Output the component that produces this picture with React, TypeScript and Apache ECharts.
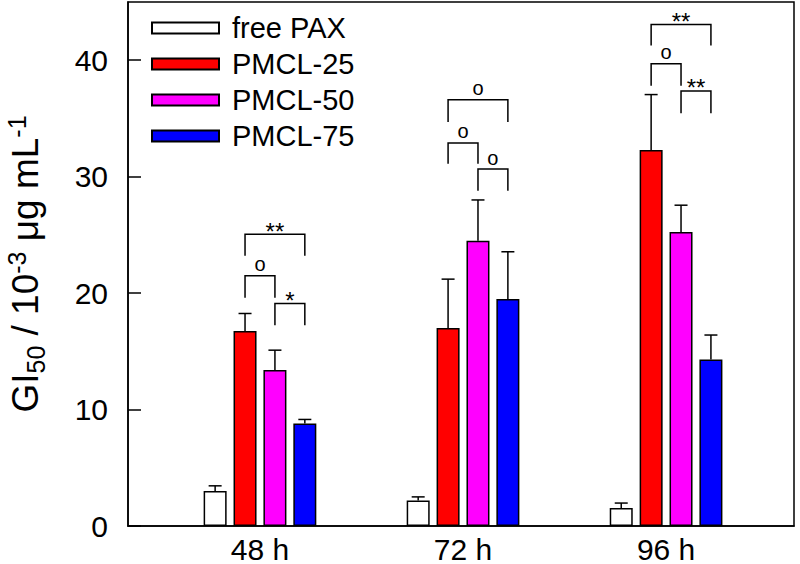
import React, { useEffect, useRef } from "react";
import * as echarts from "echarts";

const categories = ["48 h", "72 h", "96 h"];
const seriesNames = ["free PAX", "PMCL-25", "PMCL-50", "PMCL-75"];
const seriesColors = ["#ffffff", "#ff0000", "#ff00ff", "#0000ff"];
const freePax = [3.0, 2.2, 1.55];
const freePaxErr = [0.45, 0.3, 0.42];
const pmcl25 = [16.75, 17.0, 32.3];
const pmcl25Err = [1.5, 4.2, 4.75];
const pmcl50 = [13.4, 24.5, 25.25];
const pmcl50Err = [1.7, 3.5, 2.3];
const pmcl75 = [8.8, 19.5, 14.3];
const pmcl75Err = [0.35, 4.05, 2.1];

const yTicks = [0, 10, 20, 30, 40];

// significance brackets
const bracketCat = [0, 0, 0, 1, 1, 1, 2, 2, 2];
const bracketFrom = [1, 1, 2, 1, 1, 2, 1, 1, 2];
const bracketTo = [3, 2, 3, 3, 2, 3, 3, 2, 3];
const bracketTop = [25.05, 21.5, 19.1, 36.6, 32.9, 30.65, 43.07, 39.7, 37.36];
const bracketLeg = [23.2, 19.6, 17.25, 34.7, 31.1, 28.8, 41.27, 37.8, 35.45];
const bracketLabel = ["**", "o", "*", "o", "o", "o", "**", "o", "**"];

const BAR_W = 23;
const BAR_STEP = BAR_W * 1.3;
const FONT = "'Liberation Sans', Arial, sans-serif";

export default function App() {
  const ref = useRef<HTMLDivElement>(null);
  useEffect(() => {
    if (!ref.current) return;
    const chart = echarts.init(ref.current, null, { renderer: "svg" });
    const values = [freePax, pmcl25, pmcl50, pmcl75];
    const errs = [freePaxErr, pmcl25Err, pmcl50Err, pmcl75Err];

    const barSeries = seriesNames.map((name, i) => ({
      name,
      type: "bar",
      barWidth: BAR_W,
      barGap: "30%",
      itemStyle: { color: seriesColors[i], borderColor: "#000", borderWidth: 1.5 },
      data: values[i].map((v, c) => [c, v]),
      z: 2,
    }));

    const errData: number[][] = [];
    values.forEach((arr, s) => arr.forEach((v, c) => errData.push([c, v, v + errs[s][c], s])));

    const bracketData = bracketCat.map((c, i) => [c, bracketTop[i], bracketLeg[i], bracketFrom[i], bracketTo[i], i]);

    const option: any = {
      animation: false,
      textStyle: { fontFamily: FONT },
      grid: {
        left: 128,
        right: 6,
        top: 2,
        bottom: 38,
        show: true,
        borderColor: "#000",
        borderWidth: 1.5,
        backgroundColor: "#fff",
        containLabel: false,
        outerBoundsMode: "none",
      },
      legend: {
        orient: "vertical",
        left: 146,
        top: 8,
        itemWidth: 67,
        itemHeight: 11,
        itemGap: 6,
        icon: "rect",
        textStyle: { fontSize: 29, color: "#000", fontFamily: FONT, lineHeight: 30, padding: [0, 0, 0, 8] },
        data: seriesNames,
      },
      xAxis: {
        type: "value",
        min: -0.65,
        max: 2.63,
        axisLine: { show: true, onZero: false, lineStyle: { color: "#000", width: 1.5 } },
        axisTick: { show: false },
        splitLine: { show: false },
        axisLabel: {
          customValues: [0, 1, 2],
          formatter: (v: number) => categories[Math.round(v)] ?? "",
          fontSize: 30,
          color: "#000",
          margin: 8,
          fontFamily: FONT,
        },
      },
      yAxis: {
        type: "value",
        min: 0,
        max: 45,
        interval: 10,
        axisLine: { show: true, onZero: false, lineStyle: { color: "#000", width: 1.5 } },
        axisTick: { show: true, inside: true, length: 13, lineStyle: { color: "#000", width: 1.5 }, customValues: yTicks },
        splitLine: { show: false },
        axisLabel: { customValues: yTicks, fontSize: 30, color: "#000", margin: 20, fontFamily: FONT },
        name: "{m|GI}{sub|50}{m| / 10}{sup|-3}{m| μg mL}{sup|-1}",
        nameLocation: "middle",
        nameGap: 84,
        nameRotate: 90,
        nameTextStyle: {
          color: "#000",
          fontFamily: FONT,
          rich: {
            m: { fontSize: 37, color: "#000", fontFamily: FONT, lineHeight: 38, verticalAlign: "middle" },
            sub: { fontSize: 25, color: "#000", fontFamily: FONT, lineHeight: 38, verticalAlign: "bottom", padding: [0, 0, -4, 0] },
            sup: { fontSize: 25, color: "#000", fontFamily: FONT, lineHeight: 38, verticalAlign: "top", padding: [-2, 0, 0, 0] },
          },
        },
      },
      series: [
        ...barSeries,
        {
          type: "custom",
          name: "errors",
          z: 3,
          data: errData,
          renderItem: (params: any, api: any) => {
            const c = api.value(0);
            const s = api.value(3);
            const off = (s - 1.5) * BAR_STEP;
            const p0 = api.coord([c, api.value(1)]);
            const p1 = api.coord([c, api.value(2)]);
            const x = p0[0] + off;
            const style = { stroke: "#000", lineWidth: 1.5 };
            return {
              type: "group",
              children: [
                { type: "line", shape: { x1: x, y1: p0[1], x2: x, y2: p1[1] }, style },
                { type: "line", shape: { x1: x - 6.5, y1: p1[1], x2: x + 6.5, y2: p1[1] }, style },
              ],
            };
          },
        },
        {
          type: "custom",
          name: "brackets",
          z: 3,
          data: bracketData,
          renderItem: (params: any, api: any) => {
            const c = api.value(0);
            const pTop = api.coord([c, api.value(1)]);
            const pLeg = api.coord([c, api.value(2)]);
            const xa = pTop[0] + (api.value(3) - 1.5) * BAR_STEP;
            const xb = pTop[0] + (api.value(4) - 1.5) * BAR_STEP;
            const label = bracketLabel[api.value(5)];
            const isStar = label.indexOf("*") >= 0;
            return {
              type: "group",
              children: [
                {
                  type: "polyline",
                  shape: { points: [[xa, pLeg[1]], [xa, pTop[1]], [xb, pTop[1]], [xb, pLeg[1]]] },
                  style: { stroke: "#000", lineWidth: 1.5, fill: "none" },
                },
                {
                  type: "text",
                  x: (xa + xb) / 2,
                  y: pTop[1] - (isStar ? 3 : 11.5),
                  style: {
                    text: label,
                    fill: "#000",
                    fontSize: isStar ? 24 : 20,
                    fontFamily: FONT,
                    align: "center",
                    verticalAlign: "middle",
                  },
                },
              ],
            };
          },
        },
      ],
    };
    chart.setOption(option);
    return () => chart.dispose();
  }, []);
  return <div ref={ref} style={{ position: "fixed", left: 0, top: 0, width: 800, height: 564, background: "#fff" }} />;
}
